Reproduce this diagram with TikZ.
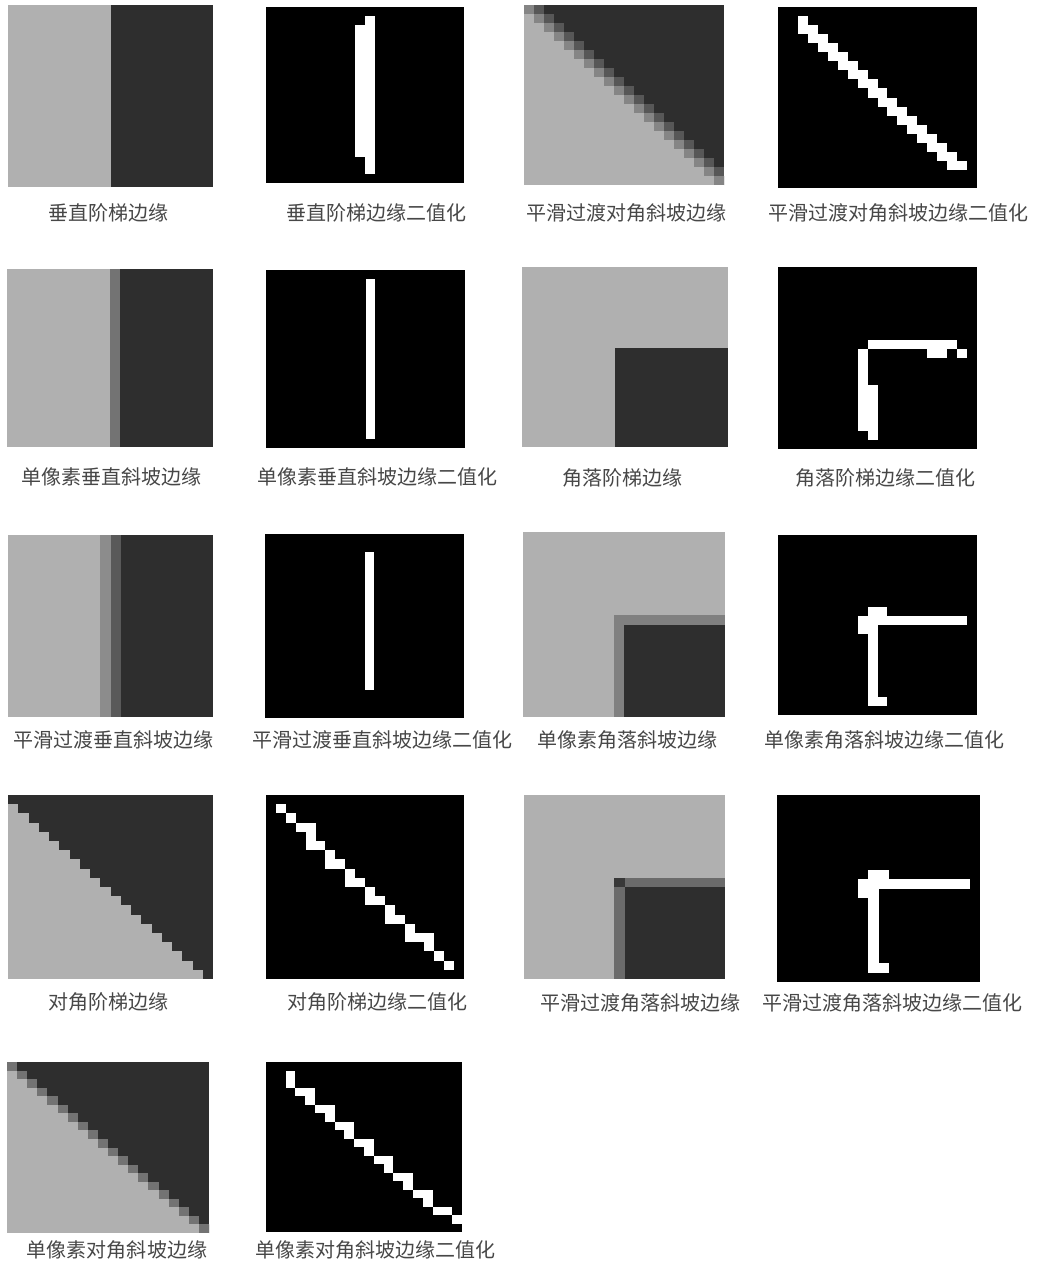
\documentclass[tikz,border=0pt]{standalone}
\usepackage{fontspec}
\newfontfamily\cjk{Noto Sans CJK SC}
\begin{document}
\begin{tikzpicture}[x=1pt, y=-1pt,
    light/.style={fill=black!31},
    dark/.style={fill=black!82},
    midg/.style={fill=black!55},
    bin/.style={fill=black},
    wpx/.style={fill=white},
    lbl/.style={font=\cjk\fontsize{20pt}{20pt}\selectfont, text=black!72, inner sep=0pt}]
    \useasboundingbox (0,0) rectangle (1051,1266);

    % 第一行
    \begin{scope}[shift={(8,5)}, x=10.25pt, y=-9.1pt]
        \fill[light] (0,0) rectangle (20,20);
        \fill[dark] (10,0) rectangle (20,20);
    \end{scope}
    \begin{scope}[shift={(266,7)}, x=9.9pt, y=-8.8pt]
        \fill[bin] (0,0) rectangle (20,20);
        \fill[wpx] (10,1) rectangle (11,19);
        \fill[wpx] (9,2) rectangle (10,17);
    \end{scope}
    \begin{scope}[shift={(524,5)}, x=10pt, y=-9pt]
        \fill[light] (0,0) rectangle (20,20);
        \foreach \r in {0,...,19} {
            \fill[dark] (\r+1,\r) rectangle (20,\r+1);
            \fill[fill=black!48] (\r,\r) rectangle (\r+1,\r+1);
        }
        \foreach \r in {0,...,18} {
            \fill[fill=black!66] (\r+1,\r) rectangle (\r+2,\r+1);
        }
    \end{scope}
    \begin{scope}[shift={(778,7)}, x=9.95pt, y=-9.05pt]
        \fill[bin] (0,0) rectangle (20,20);
        \fill[wpx] (2,1) rectangle ++(1,1);
        \foreach \r in {2,...,17} {
            \fill[wpx] (\r,\r) rectangle ++(2,1);
        }
    \end{scope}
    \node[lbl] (l1) at (108,213) {垂直阶梯边缘};
    \node[lbl] (l2) at (376,213) {垂直阶梯边缘二值化};
    \node[lbl] (l3) at (626,213) {平滑过渡对角斜坡边缘};
    \node[lbl] (l4) at (898,213) {平滑过渡对角斜坡边缘二值化};

    % 第二行
    \begin{scope}[shift={(7,269)}, x=10.3pt, y=-8.9pt]
        \fill[light] (0,0) rectangle (20,20);
        \fill[midg] (10,0) rectangle (11,20);
        \fill[dark] (11,0) rectangle (20,20);
    \end{scope}
    \begin{scope}[shift={(266,270)}, x=9.95pt, y=-8.9pt]
        \fill[bin] (0,0) rectangle (20,20);
        \fill[wpx] (10,1) rectangle (11,19);
    \end{scope}
    \begin{scope}[shift={(522,267)}, x=10.3pt, y=-9pt]
        \fill[light] (0,0) rectangle (20,20);
        \fill[dark] (9,9) rectangle (20,20);
    \end{scope}
    \begin{scope}[shift={(778,267)}, x=9.95pt, y=-9.1pt]
        \fill[bin] (0,0) rectangle (20,20);
        \fill[wpx] (9,8) rectangle (18,9);
        \fill[wpx] (15,9) rectangle (17,10);
        \fill[wpx] (18,9) rectangle (19,10);
        \fill[wpx] (8,9) rectangle (9,18);
        \fill[wpx] (9,13) rectangle (10,19);
    \end{scope}
    \node[lbl] (l5) at (111,477) {单像素垂直斜坡边缘};
    \node[lbl] (l6) at (377,477) {单像素垂直斜坡边缘二值化};
    \node[lbl] (l7) at (622,478) {角落阶梯边缘};
    \node[lbl] (l8) at (885,478) {角落阶梯边缘二值化};

    % 第三行
    \begin{scope}[shift={(8,535)}, x=10.25pt, y=-9.1pt]
        \fill[light] (0,0) rectangle (20,20);
        \fill[fill=black!45] (9,0) rectangle (10,20);
        \fill[fill=black!65] (10,0) rectangle (11,20);
        \fill[dark] (11,0) rectangle (20,20);
    \end{scope}
    \begin{scope}[shift={(265,534)}, x=9.95pt, y=-9.2pt]
        \fill[bin] (0,0) rectangle (20,20);
        \fill[wpx] (10,2) rectangle (11,17);
    \end{scope}
    \begin{scope}[shift={(523,532)}, x=10.1pt, y=-9.25pt]
        \fill[light] (0,0) rectangle (20,20);
        \fill[fill=black!50] (9,9) rectangle (20,20);
        \fill[dark] (10,10) rectangle (20,20);
    \end{scope}
    \begin{scope}[shift={(778,535)}, x=9.95pt, y=-9pt]
        \fill[bin] (0,0) rectangle (20,20);
        \fill[wpx] (9,8) rectangle (11,9);
        \fill[wpx] (8,9) rectangle (19,10);
        \fill[wpx] (8,10) rectangle (10,11);
        \fill[wpx] (9,11) rectangle (10,19);
        \fill[wpx] (10,18) rectangle (11,19);
    \end{scope}
    \node[lbl] (l9) at (113,740) {平滑过渡垂直斜坡边缘};
    \node[lbl] (l10) at (382,740) {平滑过渡垂直斜坡边缘二值化};
    \node[lbl] (l11) at (627,740) {单像素角落斜坡边缘};
    \node[lbl] (l12) at (884,740) {单像素角落斜坡边缘二值化};

    % 第四行
    \begin{scope}[shift={(8,795)}, x=10.25pt, y=-9.2pt]
        \fill[light] (0,0) rectangle (20,20);
        \foreach \r in {0,...,19} {
            \fill[dark] (\r,\r) rectangle (20,\r+1);
        }
    \end{scope}
    \begin{scope}[shift={(266,795)}, x=9.9pt, y=-9.2pt]
        \fill[bin] (0,0) rectangle (20,20);
        \foreach \c/\r in {1/1,2/2,3/3,4/3,4/4,4/5,5/5,6/6,6/7,7/7,8/8,8/9,9/9,
                10/10,10/11,11/11,12/12,12/13,13/13,14/14,14/15,15/15,16/15,
                16/16,17/17,18/18} {
            \fill[wpx] (\c,\r) rectangle ++(1,1);
        }
    \end{scope}
    \begin{scope}[shift={(524,795)}, x=10.05pt, y=-9.2pt]
        \fill[light] (0,0) rectangle (20,20);
        \fill[fill=black!58] (9,9) rectangle (20,20);
        \fill[fill=black!78] (9,9) rectangle (10,10);
        \fill[dark] (10,10) rectangle (20,20);
    \end{scope}
    \begin{scope}[shift={(777,795)}, x=10.15pt, y=-9.35pt]
        \fill[bin] (0,0) rectangle (20,20);
        \fill[wpx] (9,8) rectangle (11,9);
        \fill[wpx] (8,9) rectangle (19,10);
        \fill[wpx] (8,10) rectangle (10,11);
        \fill[wpx] (9,11) rectangle (10,19);
        \fill[wpx] (10,18) rectangle (11,19);
    \end{scope}
    \node[lbl] (l13) at (108,1002) {对角阶梯边缘};
    \node[lbl] (l14) at (377,1002) {对角阶梯边缘二值化};
    \node[lbl] (l15) at (640,1003) {平滑过渡角落斜坡边缘};
    \node[lbl] (l16) at (892,1003) {平滑过渡角落斜坡边缘二值化};

    % 第五行
    \begin{scope}[shift={(7,1062)}, x=10.1pt, y=-8.55pt]
        \fill[light] (0,0) rectangle (20,20);
        \foreach \r in {0,...,19} {
            \fill[dark] (\r+1,\r) rectangle (20,\r+1);
            \fill[midg] (\r,\r) rectangle (\r+1,\r+1);
        }
    \end{scope}
    \begin{scope}[shift={(266,1062)}, x=9.8pt, y=-8.5pt]
        \fill[bin] (0,0) rectangle (20,20);
        \foreach \c/\r in {2/1,2/2,3/3,4/3,4/4,5/5,6/5,6/6,7/7,8/7,8/8,9/9,10/9,
                10/10,11/11,12/11,12/12,13/13,14/13,14/14,15/15,16/15,16/16,
                17/17,18/17,19/18} {
            \fill[wpx] (\c,\r) rectangle ++(1,1);
        }
    \end{scope}
    \node[lbl] (l17) at (117,1250) {单像素对角斜坡边缘};
    \node[lbl] (l18) at (375,1250) {单像素对角斜坡边缘二值化};
\end{tikzpicture}
\end{document}
